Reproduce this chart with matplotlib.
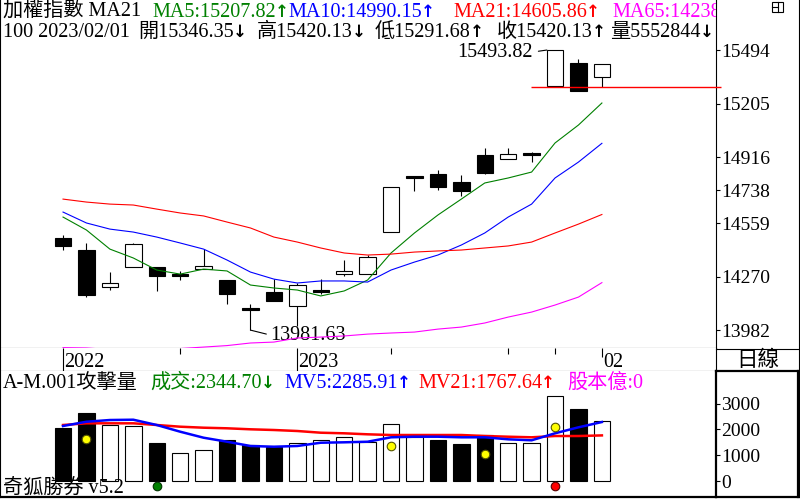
import matplotlib
matplotlib.use("Agg")
import matplotlib.pyplot as plt
from matplotlib.lines import Line2D
from matplotlib.patches import Rectangle

plt.rcParams['font.family'] = ['Liberation Serif', 'Noto Sans CJK TC', 'DejaVu Sans']
plt.rcParams['font.size'] = 14

# price candles, oldest -> newest
opens = [14479, 14414, 14214, 14322, 14322, 14283, 14311, 14252, 14101, 14187, 14112, 14197,
         14284, 14284, 14511, 14808, 14824, 14781, 14927, 14905, 14938, 15300, 15424, 15346.35]
highs = [14495, 14452, 14295, 14450, 14325, 14301, 14419, 14252, 14122, 14257, 14236, 14257,
         14360, 14387, 14754, 14810, 14846, 14819, 14965, 14965, 14943, 15493.82, 15445, 15420.13]
lows = [14414, 14160, 14198, 14320, 14193, 14252, 14311, 14122, 13981.63, 14139, 14004, 14176,
        14274, 14284, 14511, 14733, 14738, 14706, 14824, 14905, 14889, 15300, 15273, 15291.68]
closes = [14436, 14171, 14236, 14446, 14274, 14276, 14328, 14176, 14092, 14139, 14225, 14190,
          14301, 14376, 14754, 14803, 14754, 14733, 14830, 14932, 14928, 15493.82, 15273, 15420.13]

ma5 = [14592, 14522, 14419, 14371, 14306, 14284, 14311, 14301, 14225, 14209, 14198, 14166,
       14193, 14252, 14398, 14506, 14603, 14689, 14776, 14803, 14835, 14992, 15089, 15207.82]
ma10 = [14619, 14560, 14527, 14511, 14484, 14452, 14419, 14360, 14295, 14257, 14236, 14247,
        14247, 14241, 14306, 14349, 14387, 14441, 14506, 14592, 14662, 14803, 14889, 14990.15]
ma21 = [14689, 14673, 14662, 14657, 14635, 14614, 14598, 14565, 14533, 14484, 14457, 14425,
        14398, 14387, 14392, 14403, 14409, 14414, 14425, 14436, 14457, 14506, 14554, 14605.86]
ma65 = [13887, 13885, 13877, 13869, 13871, 13882, 13890, 13898, 13912, 13917, 13939, 13944,
        13950, 13960, 13966, 13971, 13987, 13998, 14020, 14052, 14079, 14117, 14160, 14238]

# volume (攻擊量)
volume = [2054, 2647, 2171, 2132, 1461, 1074, 1202, 1589, 1395, 1306, 1461, 1589,
          1694, 1523, 2198, 1717, 1589, 1434, 1783, 1461, 1461, 3306, 2791, 2344.70]
vol_black = [1, 1, 0, 0, 1, 0, 0, 1, 1, 1, 0, 0, 0, 0, 0, 0, 1, 1, 1, 0, 0, 0, 1, 0]
mv5 = [2132, 2298, 2364, 2376, 2171, 1911, 1678, 1523, 1357, 1329, 1357, 1484,
       1500, 1523, 1694, 1717, 1717, 1694, 1694, 1616, 1578, 1849, 2081, 2285.91]
mv21 = [2171, 2236, 2236, 2236, 2171, 2105, 2066, 2043, 2004, 1977, 1938, 1872,
        1849, 1810, 1783, 1783, 1783, 1783, 1744, 1717, 1694, 1744, 1744, 1767.64]
yellow_idx = [1, 14, 18, 21]
yellow_val = [1628, 1357, 1047, 2105]
green_idx = [4]
red_idx = [21]
signal_val = -194

price_ticks = [13982, 14270, 14559, 14738, 14916, 15205, 15494]
vol_ticks = [0, 1000, 2000, 3000]
date_idx = [0, 5, 10, 14, 19, 21, 23]
date_labels = ['2022', '', '2023', '', '', '', '02']

GREEN, BLUE, RED, MAG = '#008000', '#0000ff', '#ff0000', '#ff00ff'
FS = 14.5


def fx(x):
    return x / 800


def fy(y):
    return 1 - y / 500


fig = plt.figure(figsize=(8, 5), dpi=100)
x = list(range(len(closes)))
xlim = (-2.69, 27.87)


def put(ax, px, py, s, color='black', arrow=None, clip=True):
    # text placed in figure pixels, optional bold arrow right after it
    t = ax.text(fx(px), fy(py), s, color=color, transform=fig.transFigure,
                va='baseline', clip_on=clip, fontsize=FS)
    if arrow:
        ax.annotate(arrow, xy=(1, 0), xycoords=t, xytext=(-1, 1), textcoords='offset pixels',
                    ha='left', va='bottom', color=color, fontsize=12, fontweight='bold',
                    family=['DejaVu Sans'], annotation_clip=False)
    return t


# ---- price panel ----
ax1 = fig.add_axes([0, fy(348), 716 / 800, 348 / 500])
ax1.set_xlim(*xlim)
ax1.set_ylim(13885, 15764)
ax1.vlines(x, lows, highs, color='black', lw=0.8, zorder=2)
for i in x:
    o, c = opens[i], closes[i]
    if c - o >= 12:
        fc, bottom, h = 'white', o, c - o
    else:
        fc, bottom, h = 'black', min(o, c), max(abs(c - o), 10)
    ax1.bar(i, h, bottom=bottom, width=0.7, facecolor=fc, edgecolor='black', lw=0.8, zorder=3)
ax1.plot(x, ma5, color=GREEN, lw=0.8, zorder=4)
ax1.plot(x, ma10, color=BLUE, lw=0.8, zorder=4)
ax1.plot(x, ma21, color=RED, lw=0.8, zorder=4)
ax1.plot(x, ma65, color=MAG, lw=0.8, zorder=4)
ax1.hlines(lows[-1], 19.97, xlim[1] + 0.2, color=RED, lw=1, clip_on=False, zorder=5)

i_hi = highs.index(max(highs))
i_lo = lows.index(min(lows))
ax1.annotate(f"{highs[i_hi]:.2f}", xy=(i_hi - 0.35, highs[i_hi]), xytext=(-14, -2),
             textcoords='offset pixels', ha='right', va='center', fontsize=FS,
             arrowprops=dict(arrowstyle='-', lw=0.8, shrinkA=2, shrinkB=0, relpos=(1, 0.5)))
ax1.annotate(f"{lows[i_lo]:.2f}", xy=(i_lo, lows[i_lo]), xytext=(20, -5),
             textcoords='offset pixels', ha='left', va='center', fontsize=FS,
             arrowprops=dict(arrowstyle='-', lw=0.8, shrinkA=1, shrinkB=0, relpos=(0, 0.5)))

ax1.yaxis.tick_right()
ax1.set_yticks(price_ticks)
ax1.set_yticklabels([str(t) for t in price_ticks])
ax1.set_xticks([])
ax1.tick_params(axis='y', direction='out', length=3, width=0.8, pad=1, labelsize=14)
for s in ax1.spines.values():
    s.set_linewidth(0.8)
ax1.spines['top'].set_visible(False)

put(ax1, 3, 17, "加權指數 MA21")
put(ax1, 152, 17, f"MA5:{ma5[-1]:.2f}", GREEN, "↑")
put(ax1, 288, 17, f"MA10:{ma10[-1]:.2f}", BLUE, "↑")
put(ax1, 453, 17, f"MA21:{ma21[-1]:.2f}", RED, "↑")
put(ax1, 612, 17, f"MA65:{ma65[-1]}", MAG)
put(ax1, 3, 37, "100 2023/02/01")
put(ax1, 138, 37, f"開{opens[-1]:.2f}", arrow="↓")
put(ax1, 257, 37, f"高{highs[-1]:.2f}", arrow="↓")
put(ax1, 375, 37, f"低{lows[-1]:.2f}", arrow="↑")
put(ax1, 497, 37, f"收{closes[-1]:.2f}", arrow="↑")
put(ax1, 610, 37, "量5552844", arrow="↓")

# ---- date strip ----
axd = fig.add_axes([0, fy(371), 716 / 800, 23 / 500])
axd.set_xlim(*xlim)
axd.set_ylim(23, 0)
axd.set_xticks([])
axd.set_yticks([])
for s in axd.spines.values():
    s.set_linewidth(0.8)
axd.spines['top'].set_visible(False)
for i, lab in zip(date_idx, date_labels):
    length = 23 if len(lab) == 4 else (9 if lab else 6)
    axd.vlines(i, 0, length, color='black', lw=0.8)
    if lab:
        axd.text(i + 0.05, 19, lab, va='baseline', ha='left', fontsize=FS)

# ---- volume panel ----
ax2 = fig.add_axes([0, fy(497), 716 / 800, 126 / 500])
ax2.set_xlim(*xlim)
ax2.set_ylim(-620, 4264)
ax2.bar(x, volume, width=0.7, color=['black' if b else 'white' for b in vol_black],
        edgecolor='black', lw=0.8, zorder=2)
ax2.plot(x, mv21, color=RED, lw=1.8, zorder=3)
ax2.plot(x, mv5, color=BLUE, lw=1.8, zorder=3)
ax2.scatter(yellow_idx, yellow_val, s=38, color='#ffff00', edgecolor='#555500', lw=0.8, zorder=4)
ax2.scatter(green_idx, [signal_val] * len(green_idx), s=38, color=GREEN, edgecolor='#003300',
            lw=0.8, zorder=4)
ax2.scatter(red_idx, [signal_val] * len(red_idx), s=38, color=RED, edgecolor='#550000',
            lw=0.8, zorder=4)
ax2.yaxis.tick_right()
ax2.set_yticks(vol_ticks)
ax2.set_yticklabels([str(t) for t in vol_ticks])
ax2.set_xticks([])
ax2.tick_params(axis='y', direction='out', length=3, width=0.8, pad=1, labelsize=14)
for s in ax2.spines.values():
    s.set_linewidth(0.8)
ax2.spines['top'].set_visible(False)
ax2.spines['right'].set_linewidth(1.6)
ax2.spines['bottom'].set_linewidth(1.6)

put(ax2, 3, 388, "A-M.001攻擊量", clip=False)
put(ax2, 150, 388, f"成交:{volume[-1]:.2f}", GREEN, "↓", clip=False)
put(ax2, 284, 388, f"MV5:{mv5[-1]:.2f}", BLUE, "↑", clip=False)
put(ax2, 418, 388, f"MV21:{mv21[-1]:.2f}", RED, "↑", clip=False)
put(ax2, 567, 388, "股本億:0", MAG, clip=False)
put(ax2, 3, 494, "奇狐勝券 v5.2", clip=False)


# ---- right column frame ----
def fline(x0, y0, x1, y1, lw=0.8):
    fig.add_artist(Line2D([fx(x0), fx(x1)], [fy(y0), fy(y1)], color='black', lw=lw,
                          transform=fig.transFigure))


fline(798.5, 0, 798.5, 497)
fline(716, 348.5, 800, 348.5)
fline(716, 371, 799, 371, lw=1.6)
fline(716, 497, 799, 497, lw=1.6)
fline(797.5, 371, 797.5, 497, lw=1.6)
fig.text(fx(758), fy(361), "日線", ha='center', va='center', fontsize=FS + 1)
fig.add_artist(Rectangle((fx(772), fy(12)), 11 / 800, 10 / 500, fill=False, lw=0.8,
                         edgecolor='black', transform=fig.transFigure))
fline(778, 2, 778, 12)
fline(772, 7, 778, 7)

fig.savefig("out.png", dpi=100)
